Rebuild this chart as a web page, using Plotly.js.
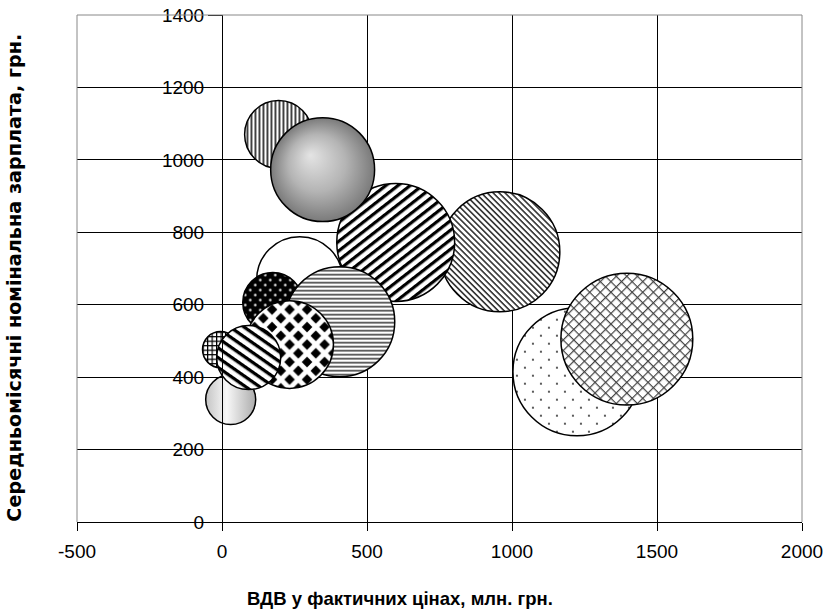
<!DOCTYPE html>
<html>
<head>
<meta charset="utf-8">
<script src="https://cdn.plot.ly/plotly-3.0.1.min.js"></script>
<style>
html,body{margin:0;padding:0;background:#fff;}
#chart{width:829px;height:613px;}
</style>
</head>
<body>
<div id="chart"></div>
<script>
// ---- data (drawing order) ----
var vdv = [268, 958, 599, 195, 347, 175, 406, 233, -5, 30, 92, 1224, 1396];        // ВДВ, млн. грн.
var zarplata = [669, 746, 772, 1070, 973, 606, 553, 490, 476, 338, 454, 415, 505];  // середньомісячна зарплата, грн.
var bubbleValue = [74, 144, 139, 46, 108, 36, 121, 77, 13, 25, 41, 164, 174];        // bubble size values
var xTickVals = [-500, 0, 500, 1000, 1500, 2000];
var yTickVals = [0, 200, 400, 600, 800, 1000, 1200, 1400];
var xRange = [-500, 2000];
var yRange = [0, 1400];

// ---- styles ----
var fills = ['pWhite','pFine','pThick','pVert','pSphere','pBlackDots','pHoriz','pChecker','pGrid','pGrey','pMed','pDots','pCross'];
var FONT = 'Liberation Sans, Arial, sans-serif';
var WIDE = 'DejaVu Sans, Liberation Sans, Arial, sans-serif';

var trace = {
  type: 'scatter',
  mode: 'markers',
  x: vdv,
  y: zarplata,
  marker: {
    size: bubbleValue,
    sizemode: 'area',
    sizeref: 0.02,
    color: '#ffffff',
    opacity: 1,
    line: {color: '#000', width: 1.5}
  },
  hoverinfo: 'skip'
};

var yPos = (0 - xRange[0]) / (xRange[1] - xRange[0]);

var layout = {
  width: 829, height: 613,
  margin: {l: 77, r: 27, t: 15, b: 91},
  paper_bgcolor: '#fff', plot_bgcolor: '#fff',
  showlegend: false,
  font: {family: FONT, color: '#000', size: 19},
  xaxis: {
    range: xRange, tickvals: xTickVals, ticktext: xTickVals.map(String),
    showgrid: true, gridcolor: '#000', gridwidth: 1,
    zeroline: false, showline: true, linecolor: '#000', linewidth: 1,
    ticks: 'outside', ticklen: 8, tickcolor: '#000', tickwidth: 1,
    ticklabelstandoff: 4,
    tickfont: {family: FONT, size: 19, color: '#000'}
  },
  yaxis: {
    range: yRange, tickvals: yTickVals, ticktext: yTickVals.map(String),
    anchor: 'free', position: yPos,
    showgrid: true, gridcolor: '#000', gridwidth: 1,
    zeroline: false, showline: true, linecolor: '#000', linewidth: 1,
    ticks: 'outside', ticklen: 14, tickcolor: '#000', tickwidth: 1,
    tickfont: {family: FONT, size: 19, color: '#000'}
  },
  shapes: [
    {type:'line', xref:'paper', yref:'paper', x0:0, x1:1, y0:1, y1:1, line:{color:'#888', width:1}, layer:'above'},
    {type:'line', xref:'paper', yref:'paper', x0:0, x1:0, y0:0, y1:1, line:{color:'#888', width:1}, layer:'above'},
    {type:'line', xref:'paper', yref:'paper', x0:1, x1:1, y0:0, y1:1, line:{color:'#888', width:1}, layer:'above'}
  ],
  annotations: [
    {text: 'ВДВ у фактичних цінах, млн. грн.', xref:'paper', yref:'paper',
     x: 0.4455, y: -0.15, xanchor:'center', yanchor:'middle', showarrow:false,
     font:{family: FONT, size: 18.5, weight: 'bold', color:'#000'}},
    {text: 'Середньомісячні номінальна зарплата, грн.', xref:'paper', yref:'paper',
     x: -0.0855, y: 0.482, xanchor:'center', yanchor:'middle', showarrow:false, textangle:-90,
     font:{family: WIDE, size: 19.2, weight: 'bold', color:'#000'}}
  ]
};

function diamond(cx, cy, h) {
  return '<polygon points="' + cx + ',' + (cy - h) + ' ' + (cx + h) + ',' + cy + ' ' + cx + ',' + (cy + h) + ' ' + (cx - h) + ',' + cy + '" fill="#000"/>';
}
var T = 17.5, H = 5.3;
var checkerStr = '<pattern id="pChecker" patternUnits="userSpaceOnUse" width="' + T + '" height="' + T + '">' +
  '<rect width="' + T + '" height="' + T + '" fill="#fff"/>' +
  diamond(0, 0, H) + diamond(T, 0, H) + diamond(0, T, H) + diamond(T, T, H) + diamond(T / 2, T / 2, H) +
  '</pattern>';

var defsStr =
 '<pattern id="pWhite" patternUnits="userSpaceOnUse" width="4" height="4"><rect width="4" height="4" fill="#fff"/></pattern>' +
 '<pattern id="pVert" patternUnits="userSpaceOnUse" width="4" height="4"><rect width="4" height="4" fill="#fff"/><rect x="0" width="1.7" height="4" fill="#222"/></pattern>' +
 '<radialGradient id="pSphere" cx="0.5" cy="0.5" r="0.5" fx="0.38" fy="0.36"><stop offset="0" stop-color="#e4e4e4"/><stop offset="0.55" stop-color="#b4b4b4"/><stop offset="1" stop-color="#7a7a7a"/></radialGradient>' +
 '<pattern id="pThick" patternUnits="userSpaceOnUse" width="10" height="7.5" patternTransform="rotate(-38)"><rect width="10" height="7.5" fill="#fff"/><rect width="10" height="3.2" fill="#000"/></pattern>' +
 '<pattern id="pFine" patternUnits="userSpaceOnUse" width="4.2" height="4.2" patternTransform="rotate(45)"><rect width="4.2" height="4.2" fill="#fff"/><rect width="4.2" height="1.6" fill="#333"/></pattern>' +
 '<pattern id="pMed" patternUnits="userSpaceOnUse" width="10" height="8" patternTransform="rotate(35)"><rect width="10" height="8" fill="#fff"/><rect width="10" height="3.3" fill="#000"/></pattern>' +
 '<pattern id="pCross" patternUnits="userSpaceOnUse" width="7.5" height="7.5" patternTransform="rotate(45)"><rect width="7.5" height="7.5" fill="#fff"/><rect width="7.5" height="1.2" fill="#444"/><rect width="1.2" height="7.5" fill="#444"/></pattern>' +
 '<pattern id="pDots" patternUnits="userSpaceOnUse" width="16" height="16"><rect width="16" height="16" fill="#fff"/><circle cx="4" cy="4" r="1.1" fill="#333"/><circle cx="12" cy="12" r="1.1" fill="#333"/></pattern>' +
 '<pattern id="pHoriz" patternUnits="userSpaceOnUse" width="4" height="4"><rect width="4" height="4" fill="#fff"/><rect width="4" height="1.8" fill="#555"/></pattern>' +
 '<pattern id="pBlackDots" patternUnits="userSpaceOnUse" width="10" height="10"><rect width="10" height="10" fill="#000"/><circle cx="2.5" cy="2.5" r="1.2" fill="#fff"/><circle cx="7.5" cy="7.5" r="1.2" fill="#fff"/></pattern>' +
 checkerStr +
 '<pattern id="pGrid" patternUnits="userSpaceOnUse" width="4.5" height="4.5"><rect width="4.5" height="4.5" fill="#fff"/><rect width="1.2" height="4.5" fill="#000"/><rect width="4.5" height="1.2" fill="#000"/></pattern>' +
 '<linearGradient id="pGrey" x1="0" y1="0" x2="1" y2="0"><stop offset="0" stop-color="#c4c4c4"/><stop offset="0.42" stop-color="#f8f8f8"/><stop offset="1" stop-color="#acacac"/></linearGradient>';

var gd = document.getElementById('chart');
Plotly.newPlot(gd, [trace], layout, {staticPlot: true, displayModeBar: false}).then(function () {
  var svg = gd.querySelector('svg.main-svg');
  var defs = svg.querySelector('defs');
  var doc = new DOMParser().parseFromString('<svg xmlns="http://www.w3.org/2000/svg"><defs>' + defsStr + '</defs></svg>', 'image/svg+xml');
  var nodes = Array.prototype.slice.call(doc.documentElement.firstChild.childNodes);
  nodes.forEach(function (n) { defs.appendChild(document.importNode(n, true)); });
  var pts = gd.querySelectorAll('.scatterlayer .trace .points path.point');
  for (var i = 0; i < pts.length; i++) {
    pts[i].style.fill = 'url(#' + fills[i] + ')';
    pts[i].style.fillOpacity = 1;
  }
});
</script>
</body>
</html>
